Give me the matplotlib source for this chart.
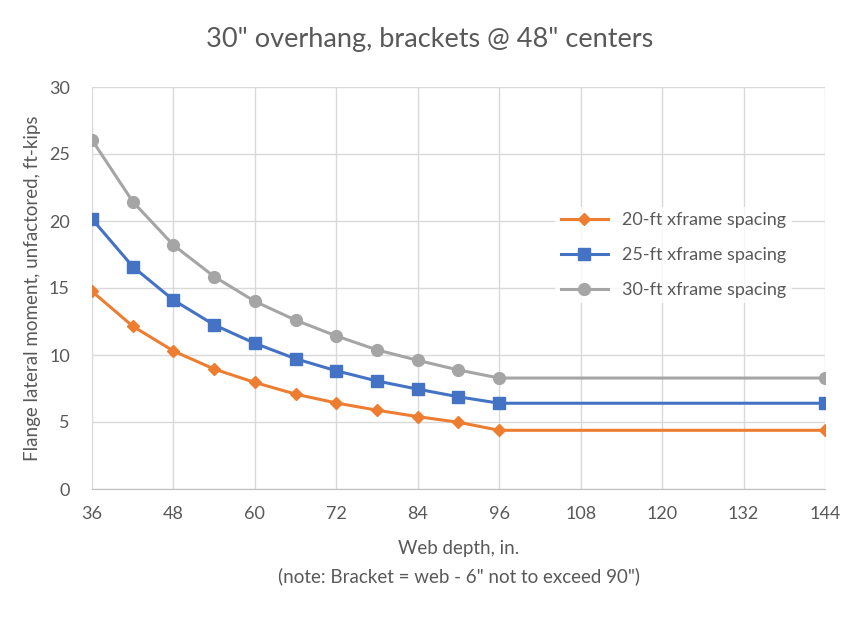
import numpy as np
import matplotlib.pyplot as plt

plt.rcParams['font.family'] = ['Lato', 'DejaVu Sans']

web_depth = [36, 42, 48, 54, 60, 66, 72, 78, 84, 90, 96, 144]
m_20ft = [14.75, 12.15, 10.3, 8.95, 7.95, 7.08, 6.42, 5.88, 5.4, 4.98, 4.38, 4.38]
m_25ft = [20.15, 16.6, 14.1, 12.25, 10.87, 9.72, 8.82, 8.06, 7.45, 6.88, 6.4, 6.4]
m_30ft = [26.05, 21.45, 18.2, 15.85, 14.0, 12.6, 11.42, 10.38, 9.6, 8.88, 8.28, 8.28]

txt = '#595959'
grid = '#d9d9d9'

fig = plt.figure(figsize=(8.6, 6.18), dpi=100)
ax = fig.add_axes([92/860, 1 - 489/618, (825-92)/860, (489-87)/618])

ax.plot(web_depth, m_20ft, color='#ed7d31', lw=2.2, marker='D', ms=6, label='20-ft xframe spacing')
ax.plot(web_depth, m_25ft, color='#4472c4', lw=2.2, marker='s', ms=8, label='25-ft xframe spacing')
ax.plot(web_depth, m_30ft, color='#a5a5a5', lw=2.2, marker='o', ms=8.5, label='30-ft xframe spacing')

ax.set_xlim(36, 144)
ax.set_ylim(0, 30)
ax.set_xticks(np.arange(36, 145, 12))
ax.set_yticks(np.arange(0, 31, 5))
ax.grid(True, color=grid, lw=1)
ax.set_axisbelow(True)
for s in ['top', 'right', 'left']:
    ax.spines[s].set_visible(False)
ax.spines['bottom'].set_color('#bfbfbf')
ax.tick_params(length=0, colors=txt, labelsize=13, pad=12)
ax.tick_params(axis='y', pad=16)

ax.set_xlabel('Web depth, in.\n(note: Bracket = web - 6" not to exceed 90")',
              color=txt, fontsize=13.5, linespacing=1.7, labelpad=13)
ax.set_ylabel('Flange lateral moment, unfactored, ft-kips', color=txt, fontsize=13.5, labelpad=6)
fig.text(0.5, 1 - 40/618, '30" overhang, brackets @ 48" centers', ha='center', va='center',
         color=txt, fontsize=19.5)

leg = ax.legend(loc='upper left', bbox_to_anchor=(0.62, 0.725), frameon=True, facecolor='white',
                edgecolor='none', fontsize=13, labelspacing=1.05, handlelength=2.6, borderpad=0.3)
for t in leg.get_texts():
    t.set_color(txt)

fig.savefig('out.png', dpi=100)
